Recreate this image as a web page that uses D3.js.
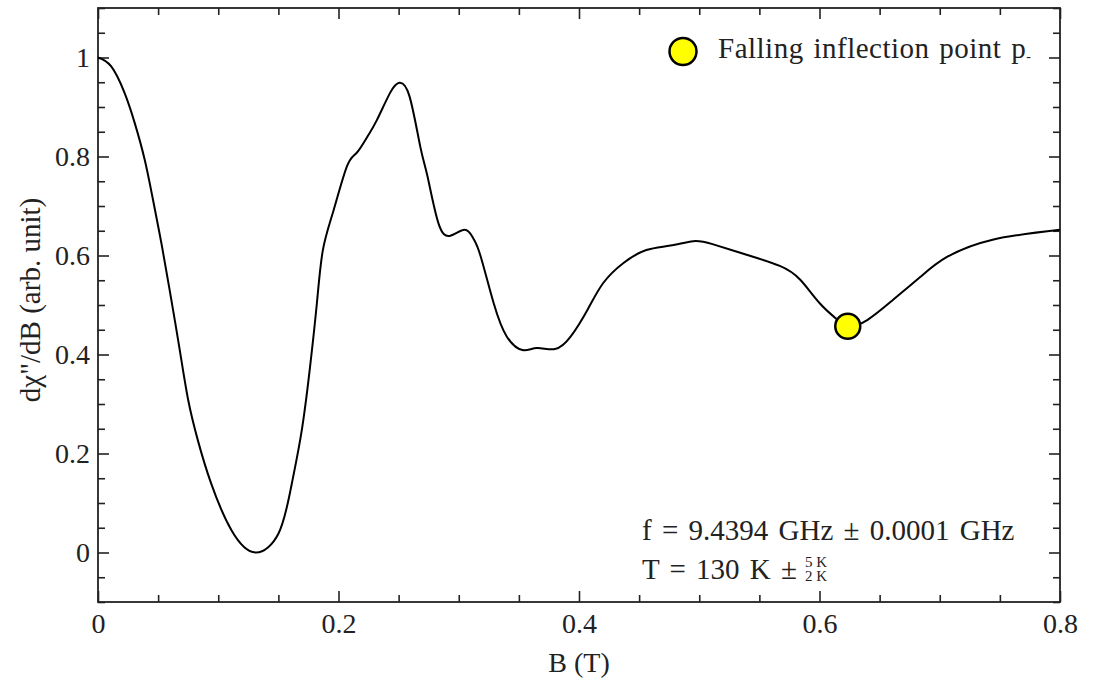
<!DOCTYPE html>
<html>
<head>
<meta charset="utf-8">
<script src="https://cdn.jsdelivr.net/npm/d3@7"></script>
</head>
<body style="margin:0; background:#fff">
<svg id="chart" width="1095" height="684"></svg>
<script>
const width = 1095;
const height = 684;
const margin = { top: 8, right: 35, bottom: 82, left: 98 };
const serifFace = "Liberation Serif";
const ink = "#222";

// field values
const fieldB = [0, 0.011, 0.022, 0.0305, 0.0388, 0.0457, 0.0527, 0.0596, 0.068, 0.075,
    0.083, 0.094, 0.111, 0.131, 0.150, 0.160, 0.169, 0.176, 0.182, 0.187,
    0.196, 0.207, 0.215, 0.224, 0.232, 0.243, 0.2506, 0.259, 0.268, 0.274,
    0.283, 0.293, 0.305, 0.312, 0.318, 0.329, 0.340, 0.353, 0.365, 0.380,
    0.393, 0.407, 0.420, 0.437, 0.456, 0.476, 0.495, 0.511, 0.540, 0.567,
    0.584, 0.600, 0.615, 0.625, 0.640, 0.661, 0.684, 0.706, 0.744, 0.8];
const signal = [1.0, 0.982, 0.929, 0.868, 0.794, 0.713, 0.625, 0.530, 0.409, 0.308,
    0.227, 0.14, 0.045, 0.0, 0.038, 0.125, 0.24, 0.368, 0.503, 0.611,
    0.692, 0.780, 0.807, 0.84, 0.874, 0.929, 0.949, 0.922, 0.82, 0.76,
    0.666, 0.64, 0.652, 0.635, 0.60, 0.504, 0.436, 0.409, 0.413, 0.411,
    0.436, 0.49, 0.544, 0.585, 0.611, 0.62, 0.629, 0.623, 0.601, 0.579,
    0.551, 0.504, 0.47, 0.457, 0.47, 0.51, 0.557, 0.597, 0.632, 0.652];

const inflectionPoint = [{ b: 0.6235, v: 0.457 }];

const xMajorTicks = [0, 0.2, 0.4, 0.6, 0.8];
const yMajorTicks = [0, 0.2, 0.4, 0.6, 0.8, 1];

const svg = d3.select("#chart");

const x = d3.scaleLinear()
    .domain([0, 0.8])
    .range([margin.left, width - margin.right]);
const y = d3.scaleLinear()
    .domain([-0.1, 1.1])
    .range([height - margin.bottom, margin.top]);

const fmt = d => d === 0 ? "0" : (d === 1 ? "1" : d3.format(".1f")(d));
const majorLen = 11, minorLen = 7;

const xMinor = d3.range(0, 0.8001, 0.05).filter(v => !xMajorTicks.some(t => Math.abs(t - v) < 1e-6));
const yMinor = d3.range(-0.1, 1.1001, 0.05).filter(v => !yMajorTicks.some(t => Math.abs(t - v) < 1e-6));

function styleAxis(g) {
    g.attr("font-family", serifFace);
    g.select(".domain").remove();
    g.selectAll(".tick line").attr("stroke", ink).attr("stroke-width", 1.6);
    g.selectAll(".tick text")
        .attr("font-family", serifFace)
        .style("font-size", "28px")
        .attr("fill", ink);
}

function addAxis(axis, tx, ty) {
    svg.append("g")
        .attr("transform", `translate(${tx},${ty})`)
        .call(axis)
        .call(styleAxis);
}

const bottom = height - margin.bottom, right = width - margin.right;
addAxis(d3.axisBottom(x).tickValues(xMajorTicks).tickFormat(fmt).tickSizeInner(-majorLen).tickSizeOuter(0).tickPadding(11), 0, bottom);
addAxis(d3.axisBottom(x).tickValues(xMinor).tickFormat("").tickSizeInner(-minorLen).tickSizeOuter(0), 0, bottom);
addAxis(d3.axisTop(x).tickValues(xMajorTicks).tickFormat("").tickSizeInner(-majorLen).tickSizeOuter(0), 0, margin.top);
addAxis(d3.axisTop(x).tickValues(xMinor).tickFormat("").tickSizeInner(-minorLen).tickSizeOuter(0), 0, margin.top);
addAxis(d3.axisLeft(y).tickValues(yMajorTicks).tickFormat(fmt).tickSizeInner(-majorLen).tickSizeOuter(0).tickPadding(8), margin.left, 0);
addAxis(d3.axisLeft(y).tickValues(yMinor).tickFormat("").tickSizeInner(-minorLen).tickSizeOuter(0), margin.left, 0);
addAxis(d3.axisRight(y).tickValues(yMajorTicks).tickFormat("").tickSizeInner(-majorLen).tickSizeOuter(0), right, 0);
addAxis(d3.axisRight(y).tickValues(yMinor).tickFormat("").tickSizeInner(-minorLen).tickSizeOuter(0), right, 0);

// frame
svg.append("rect")
    .attr("x", margin.left)
    .attr("y", margin.top)
    .attr("width", right - margin.left)
    .attr("height", bottom - margin.top)
    .attr("fill", "none")
    .attr("stroke", ink)
    .attr("stroke-width", 1.8);

// curve
const line = d3.line()
    .x((d, i) => x(fieldB[i]))
    .y(d => y(d))
    .curve(d3.curveNatural);

svg.append("path")
    .datum(signal)
    .attr("fill", "none")
    .attr("stroke", "#000")
    .attr("stroke-width", 2)
    .attr("d", line);

svg.selectAll(".inflection")
    .data(inflectionPoint)
    .enter()
    .append("circle")
    .attr("class", "inflection")
    .attr("cx", d => x(d.b))
    .attr("cy", d => y(d.v))
    .attr("r", 12.5)
    .attr("fill", "#ffff00")
    .attr("stroke", "#000")
    .attr("stroke-width", 2.5);

function label(px, py, size) {
    return svg.append("text")
        .attr("x", px).attr("y", py)
        .attr("fill", ink)
        .attr("font-family", serifFace)
        .style("font-size", size + "px");
}

// legend
svg.append("circle")
    .attr("cx", 683).attr("cy", 51.5).attr("r", 13.5)
    .attr("fill", "#ffff00").attr("stroke", "#000").attr("stroke-width", 2.5);
const legendText = label(718, 58, 29)
    .style("letter-spacing", "0.5px")
    .style("word-spacing", "2px");
legendText.append("tspan").text("Falling inflection point p");
legendText.append("tspan").attr("dy", 3).style("font-size", "14px").text("-");

// annotation
label(642, 540, 29)
    .style("word-spacing", "3px")
    .text("f = 9.4394 GHz ± 0.0001 GHz");
const tMain = label(642, 579, 29)
    .style("word-spacing", "3px")
    .text("T = 130 K ±");
const fracX = 642 + tMain.node().getComputedTextLength() + 8;
label(fracX, 567, 15).text("5 K");
label(fracX, 581, 15).text("2 K");

// axis titles
label((margin.left + right) / 2, 672, 28)
    .attr("text-anchor", "middle")
    .text("B (T)");

label(0, 0, 29)
    .attr("transform", "translate(40,300) rotate(-90)")
    .attr("text-anchor", "middle")
    .text("dχ\"/dB (arb. unit)");
</script>
</body>
</html>
